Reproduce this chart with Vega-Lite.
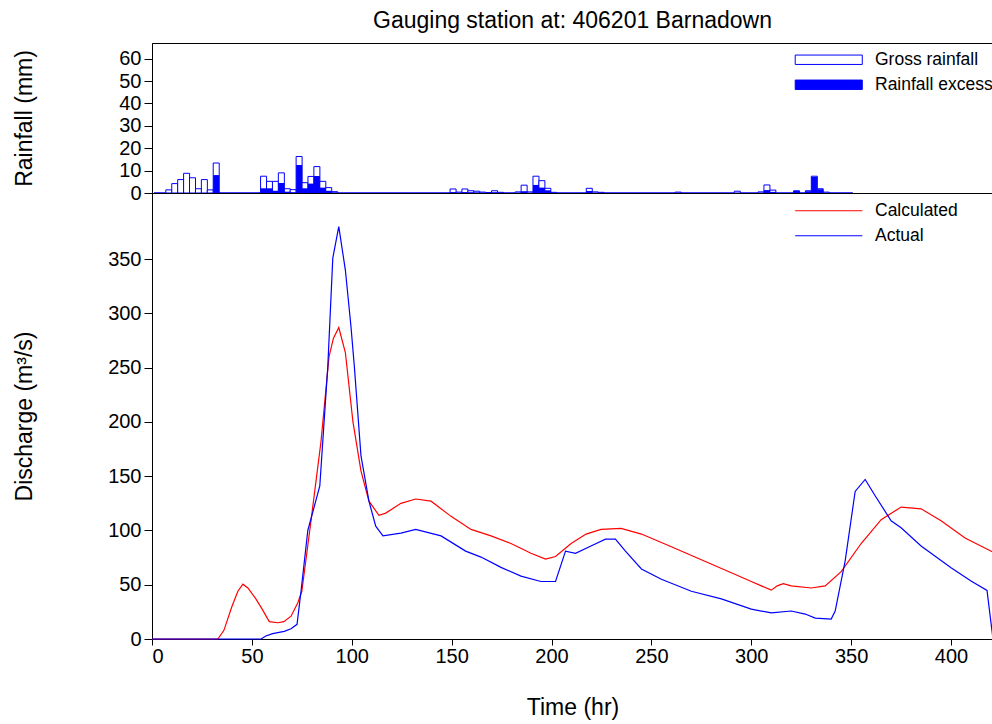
{
  "$schema": "https://vega.github.io/schema/vega-lite/v6.json",
  "padding": {"left": 12, "right": 0, "top": 9, "bottom": 0},
  "spacing": 0,
  "bounds": "flush",
  "config": {
    "font": "Liberation Sans",
    "view": {"stroke": "#000000", "strokeWidth": 1},
    "axis": {
      "labelFontSize": 20, "titleFontSize": 23, "titleFontWeight": "normal",
      "labelColor": "#000000", "titleColor": "#000000", "tickColor": "#000000", "domainColor": "#000000",
      "tickSize": 8, "labelPadding": 3, "grid": false, "labelFont": "Liberation Sans", "titleFont": "Liberation Sans"
    },
    "legend": {
      "labelFontSize": 17.5, "labelFont": "Liberation Sans", "labelColor": "#000000", "padding": 0, "title": null
    }
  },
  "datasets": {
    "rain": [
      {"t": 0, "gross": 0, "excess": 0}, {"t": 3, "gross": 0, "excess": 0}, {"t": 6, "gross": 1.4, "excess": 0},
      {"t": 9, "gross": 4.2, "excess": 0}, {"t": 12, "gross": 6.0, "excess": 0}, {"t": 15, "gross": 8.8, "excess": 0},
      {"t": 18, "gross": 6.8, "excess": 0}, {"t": 21, "gross": 1.9, "excess": 0}, {"t": 24, "gross": 6.0, "excess": 0},
      {"t": 27, "gross": 1.4, "excess": 0}, {"t": 30, "gross": 13.4, "excess": 8.0}, {"t": 33, "gross": 0, "excess": 0},
      {"t": 36, "gross": 0, "excess": 0}, {"t": 39, "gross": 0, "excess": 0}, {"t": 42, "gross": 0, "excess": 0},
      {"t": 45, "gross": 0, "excess": 0}, {"t": 48, "gross": 0, "excess": 0}, {"t": 51, "gross": 0, "excess": 0},
      {"t": 54, "gross": 7.5, "excess": 2.1}, {"t": 57, "gross": 5.2, "excess": 2.1}, {"t": 60, "gross": 5.2, "excess": 1.0},
      {"t": 63, "gross": 9.0, "excess": 4.5}, {"t": 66, "gross": 1.9, "excess": 0.6}, {"t": 69, "gross": 1.5, "excess": 0.3},
      {"t": 72, "gross": 16.3, "excess": 12.5}, {"t": 75, "gross": 4.6, "excess": 2.1}, {"t": 78, "gross": 7.4, "excess": 4.2},
      {"t": 81, "gross": 11.8, "excess": 7.6}, {"t": 84, "gross": 5.2, "excess": 2.4}, {"t": 87, "gross": 2.4, "excess": 1.0},
      {"t": 90, "gross": 0.6, "excess": 0.2}, {"t": 93, "gross": 0, "excess": 0}, {"t": 96, "gross": 0, "excess": 0},
      {"t": 99, "gross": 0, "excess": 0}, {"t": 102, "gross": 0, "excess": 0}, {"t": 105, "gross": 0, "excess": 0},
      {"t": 108, "gross": 0, "excess": 0}, {"t": 111, "gross": 0, "excess": 0}, {"t": 114, "gross": 0, "excess": 0},
      {"t": 117, "gross": 0, "excess": 0}, {"t": 120, "gross": 0, "excess": 0}, {"t": 123, "gross": 0, "excess": 0},
      {"t": 126, "gross": 0, "excess": 0}, {"t": 129, "gross": 0, "excess": 0}, {"t": 132, "gross": 0, "excess": 0},
      {"t": 135, "gross": 0, "excess": 0}, {"t": 138, "gross": 0, "excess": 0}, {"t": 141, "gross": 0, "excess": 0},
      {"t": 144, "gross": 0, "excess": 0}, {"t": 147, "gross": 0, "excess": 0}, {"t": 150, "gross": 1.8, "excess": 0.4},
      {"t": 153, "gross": 0.4, "excess": 0}, {"t": 156, "gross": 1.8, "excess": 0.4}, {"t": 159, "gross": 1.0, "excess": 0.3},
      {"t": 162, "gross": 0.8, "excess": 0.2}, {"t": 165, "gross": 0.4, "excess": 0}, {"t": 168, "gross": 0.2, "excess": 0},
      {"t": 171, "gross": 1.0, "excess": 0.3}, {"t": 174, "gross": 0.3, "excess": 0}, {"t": 177, "gross": 0, "excess": 0},
      {"t": 180, "gross": 0, "excess": 0}, {"t": 183, "gross": 0.5, "excess": 0}, {"t": 186, "gross": 3.5, "excess": 0.8},
      {"t": 189, "gross": 0.5, "excess": 0}, {"t": 192, "gross": 7.5, "excess": 3.6}, {"t": 195, "gross": 5.5, "excess": 2.4},
      {"t": 198, "gross": 2.1, "excess": 1.2}, {"t": 201, "gross": 0.3, "excess": 0}, {"t": 204, "gross": 0, "excess": 0},
      {"t": 207, "gross": 0, "excess": 0}, {"t": 210, "gross": 0, "excess": 0}, {"t": 213, "gross": 0, "excess": 0},
      {"t": 216, "gross": 0, "excess": 0}, {"t": 219, "gross": 2.1, "excess": 0.9}, {"t": 222, "gross": 0.5, "excess": 0},
      {"t": 225, "gross": 0.3, "excess": 0}, {"t": 228, "gross": 0, "excess": 0}, {"t": 231, "gross": 0, "excess": 0},
      {"t": 234, "gross": 0, "excess": 0}, {"t": 237, "gross": 0, "excess": 0}, {"t": 240, "gross": 0, "excess": 0},
      {"t": 243, "gross": 0, "excess": 0}, {"t": 246, "gross": 0, "excess": 0}, {"t": 249, "gross": 0, "excess": 0},
      {"t": 252, "gross": 0, "excess": 0}, {"t": 255, "gross": 0, "excess": 0}, {"t": 258, "gross": 0, "excess": 0},
      {"t": 261, "gross": 0, "excess": 0}, {"t": 264, "gross": 0.4, "excess": 0}, {"t": 267, "gross": 0, "excess": 0},
      {"t": 270, "gross": 0, "excess": 0}, {"t": 273, "gross": 0, "excess": 0}, {"t": 276, "gross": 0, "excess": 0},
      {"t": 279, "gross": 0, "excess": 0}, {"t": 282, "gross": 0, "excess": 0}, {"t": 285, "gross": 0, "excess": 0},
      {"t": 288, "gross": 0, "excess": 0}, {"t": 291, "gross": 0, "excess": 0}, {"t": 294, "gross": 0.8, "excess": 0},
      {"t": 297, "gross": 0, "excess": 0}, {"t": 300, "gross": 0, "excess": 0}, {"t": 303, "gross": 0, "excess": 0},
      {"t": 306, "gross": 0.5, "excess": 0}, {"t": 309, "gross": 3.6, "excess": 1.3}, {"t": 312, "gross": 1.3, "excess": 0.5},
      {"t": 315, "gross": 0, "excess": 0}, {"t": 318, "gross": 0, "excess": 0}, {"t": 321, "gross": 0, "excess": 0},
      {"t": 324, "gross": 1.0, "excess": 0.9}, {"t": 327, "gross": 0, "excess": 0}, {"t": 330, "gross": 1.0, "excess": 0.8},
      {"t": 333, "gross": 7.5, "excess": 7.2}, {"t": 336, "gross": 1.9, "excess": 1.7}, {"t": 339, "gross": 0.4, "excess": 0},
      {"t": 342, "gross": 0, "excess": 0}, {"t": 345, "gross": 0, "excess": 0}, {"t": 348, "gross": 0, "excess": 0},
      {"t": 351, "gross": 0, "excess": 0}
    ],
    "flow": [
      {"series": "Calculated", "t": 0, "q": 0}, {"series": "Calculated", "t": 33, "q": 0}, {"series": "Calculated", "t": 36, "q": 8},
      {"series": "Calculated", "t": 40, "q": 30}, {"series": "Calculated", "t": 43, "q": 44}, {"series": "Calculated", "t": 45.5, "q": 50.5},
      {"series": "Calculated", "t": 48, "q": 47}, {"series": "Calculated", "t": 52, "q": 37}, {"series": "Calculated", "t": 55, "q": 28},
      {"series": "Calculated", "t": 58.7, "q": 16}, {"series": "Calculated", "t": 63, "q": 15}, {"series": "Calculated", "t": 66, "q": 16},
      {"series": "Calculated", "t": 69.6, "q": 21}, {"series": "Calculated", "t": 73, "q": 33.4}, {"series": "Calculated", "t": 75, "q": 44},
      {"series": "Calculated", "t": 79.6, "q": 109}, {"series": "Calculated", "t": 84.6, "q": 182}, {"series": "Calculated", "t": 88.6, "q": 260},
      {"series": "Calculated", "t": 90.8, "q": 277}, {"series": "Calculated", "t": 93.5, "q": 287}, {"series": "Calculated", "t": 96.8, "q": 264},
      {"series": "Calculated", "t": 100.6, "q": 200}, {"series": "Calculated", "t": 104.6, "q": 155}, {"series": "Calculated", "t": 108.6, "q": 127},
      {"series": "Calculated", "t": 113.6, "q": 114}, {"series": "Calculated", "t": 117, "q": 116}, {"series": "Calculated", "t": 124.6, "q": 125},
      {"series": "Calculated", "t": 132, "q": 129}, {"series": "Calculated", "t": 139.7, "q": 127}, {"series": "Calculated", "t": 149.7, "q": 113},
      {"series": "Calculated", "t": 159.7, "q": 101}, {"series": "Calculated", "t": 169.7, "q": 95}, {"series": "Calculated", "t": 179.7, "q": 88},
      {"series": "Calculated", "t": 189.7, "q": 79}, {"series": "Calculated", "t": 197, "q": 73.7}, {"series": "Calculated", "t": 202, "q": 76},
      {"series": "Calculated", "t": 209.8, "q": 88}, {"series": "Calculated", "t": 217.3, "q": 96.7}, {"series": "Calculated", "t": 224.8, "q": 101},
      {"series": "Calculated", "t": 234.8, "q": 102}, {"series": "Calculated", "t": 245, "q": 96.7}, {"series": "Calculated", "t": 260, "q": 85},
      {"series": "Calculated", "t": 275, "q": 73}, {"series": "Calculated", "t": 290, "q": 61}, {"series": "Calculated", "t": 300, "q": 53},
      {"series": "Calculated", "t": 310, "q": 45}, {"series": "Calculated", "t": 313, "q": 49}, {"series": "Calculated", "t": 316, "q": 51},
      {"series": "Calculated", "t": 320, "q": 49}, {"series": "Calculated", "t": 330, "q": 47}, {"series": "Calculated", "t": 337, "q": 49},
      {"series": "Calculated", "t": 345, "q": 62}, {"series": "Calculated", "t": 355, "q": 88}, {"series": "Calculated", "t": 365, "q": 110},
      {"series": "Calculated", "t": 375, "q": 121.6}, {"series": "Calculated", "t": 385, "q": 120}, {"series": "Calculated", "t": 395, "q": 109},
      {"series": "Calculated", "t": 407, "q": 93}, {"series": "Calculated", "t": 421, "q": 80},
      {"series": "Actual", "t": 0, "q": 0}, {"series": "Actual", "t": 54.6, "q": 0}, {"series": "Actual", "t": 57, "q": 2.8},
      {"series": "Actual", "t": 60.4, "q": 5}, {"series": "Actual", "t": 66.2, "q": 7}, {"series": "Actual", "t": 69.6, "q": 9.5},
      {"series": "Actual", "t": 72.6, "q": 13.5}, {"series": "Actual", "t": 74.6, "q": 44}, {"series": "Actual", "t": 78, "q": 100},
      {"series": "Actual", "t": 84, "q": 141}, {"series": "Actual", "t": 88, "q": 251}, {"series": "Actual", "t": 90.5, "q": 351},
      {"series": "Actual", "t": 93.5, "q": 380}, {"series": "Actual", "t": 96.8, "q": 340}, {"series": "Actual", "t": 99.6, "q": 288},
      {"series": "Actual", "t": 101.3, "q": 251}, {"series": "Actual", "t": 104.6, "q": 169}, {"series": "Actual", "t": 108.6, "q": 127},
      {"series": "Actual", "t": 112, "q": 104}, {"series": "Actual", "t": 115.6, "q": 95}, {"series": "Actual", "t": 124.6, "q": 97.6},
      {"series": "Actual", "t": 132, "q": 101}, {"series": "Actual", "t": 144.7, "q": 95}, {"series": "Actual", "t": 157, "q": 81},
      {"series": "Actual", "t": 164.7, "q": 75.5}, {"series": "Actual", "t": 174.7, "q": 66}, {"series": "Actual", "t": 184.7, "q": 58},
      {"series": "Actual", "t": 194.7, "q": 53}, {"series": "Actual", "t": 202, "q": 53}, {"series": "Actual", "t": 207, "q": 81},
      {"series": "Actual", "t": 212, "q": 79}, {"series": "Actual", "t": 220, "q": 86}, {"series": "Actual", "t": 227, "q": 92},
      {"series": "Actual", "t": 232, "q": 92}, {"series": "Actual", "t": 237, "q": 81}, {"series": "Actual", "t": 245, "q": 64.5},
      {"series": "Actual", "t": 255, "q": 55}, {"series": "Actual", "t": 270, "q": 44}, {"series": "Actual", "t": 285, "q": 37},
      {"series": "Actual", "t": 300, "q": 27.6}, {"series": "Actual", "t": 310, "q": 24}, {"series": "Actual", "t": 320, "q": 25.8},
      {"series": "Actual", "t": 327, "q": 23}, {"series": "Actual", "t": 332, "q": 19.3}, {"series": "Actual", "t": 340, "q": 18.4},
      {"series": "Actual", "t": 342, "q": 25.8}, {"series": "Actual", "t": 347, "q": 72}, {"series": "Actual", "t": 352, "q": 136},
      {"series": "Actual", "t": 357, "q": 147}, {"series": "Actual", "t": 362, "q": 132}, {"series": "Actual", "t": 370, "q": 109},
      {"series": "Actual", "t": 375, "q": 102.5}, {"series": "Actual", "t": 385, "q": 85.7}, {"series": "Actual", "t": 400, "q": 65.7},
      {"series": "Actual", "t": 410, "q": 53.4}, {"series": "Actual", "t": 418, "q": 44.8}, {"series": "Actual", "t": 421, "q": 0}
    ]
  },
  "vconcat": [
    {
      "title": {"text": "Gauging station at: 406201 Barnadown", "fontSize": 23, "fontWeight": "normal", "anchor": "middle", "offset": 10, "font": "Liberation Sans", "color": "#000000"},
      "width": 841,
      "height": 150,
      "data": {"name": "rain"},
      "layer": [
        {
          "mark": {"type": "bar", "width": 6, "stroke": "#0000ff", "strokeWidth": 1},
          "encoding": {
            "x": {"field": "t", "type": "quantitative", "scale": {"domain": [0, 421], "nice": false, "zero": false}, "axis": null},
            "y": {"field": "gross", "type": "quantitative", "scale": {"domain": [0, 67], "nice": false}, "axis": {"values": [0, 10, 20, 30, 40, 50, 60], "title": "Rainfall (mm)", "titleX": -116}},
            "fill": {"datum": "Gross rainfall", "type": "nominal", "scale": {"domain": ["Gross rainfall", "Rainfall excess"], "range": ["#ffffff", "#0000ff"]},
              "legend": {"orient": "none", "legendX": 668, "legendY": 8, "symbolType": "M-5,-0.7H5V0.7H-5Z", "symbolSize": 180, "symbolStrokeColor": "#0000ff", "symbolStrokeWidth": 1, "labelOffset": 37.5, "rowPadding": 6}}
          }
        },
        {
          "mark": {"type": "bar", "width": 6},
          "encoding": {
            "x": {"field": "t", "type": "quantitative", "scale": {"domain": [0, 421], "nice": false, "zero": false}, "axis": null},
            "y": {"field": "excess", "type": "quantitative", "axis": {"values": [0, 10, 20, 30, 40, 50, 60], "title": "Rainfall (mm)", "titleX": -116}},
            "fill": {"datum": "Rainfall excess", "type": "nominal"}
          }
        }
      ]
    },
    {
      "width": 841,
      "height": 446,
      "data": {"name": "flow"},
      "mark": {"type": "line", "strokeWidth": 1.2},
      "encoding": {
        "x": {"field": "t", "type": "quantitative", "scale": {"domain": [0, 421], "nice": false, "zero": false}, "axis": {"values": [0, 50, 100, 150, 200, 250, 300, 350, 400], "title": "Time (hr)", "tickSize": 6, "labelPadding": 1, "titlePadding": 30}},
        "y": {"field": "q", "type": "quantitative", "scale": {"domain": [0, 411], "nice": false}, "axis": {"values": [0, 50, 100, 150, 200, 250, 300, 350], "title": "Discharge (m³/s)", "titleX": -116}},
        "color": {"field": "series", "type": "nominal", "scale": {"domain": ["Calculated", "Actual"], "range": ["#ff0000", "#0000ff"]},
          "legend": {"orient": "none", "legendX": 668, "legendY": 9, "symbolType": "M-5,0H5", "symbolSize": 180, "symbolStrokeWidth": 1.2, "labelOffset": 37.5, "rowPadding": 6}}
      }
    }
  ],
  "resolve": {"scale": {"color": "independent", "fill": "independent"}}
}
